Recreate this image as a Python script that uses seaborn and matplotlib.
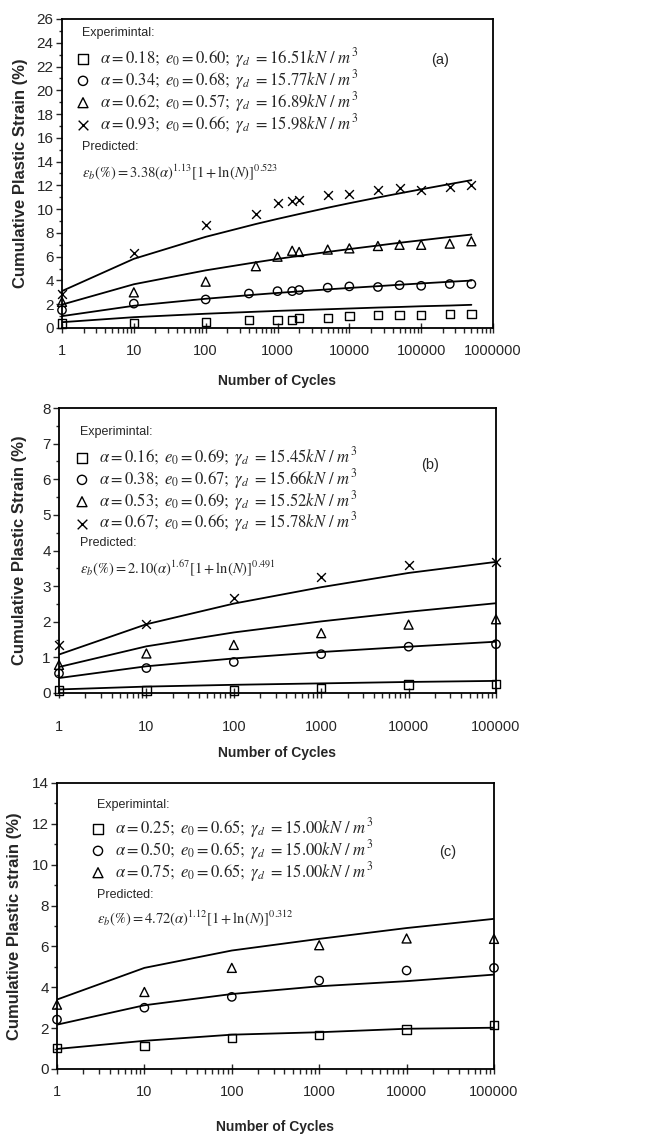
import numpy as np
import pandas as pd
import seaborn as sns
import matplotlib.pyplot as plt
from matplotlib.ticker import MultipleLocator, LogLocator, NullFormatter

sns.set_style('ticks')
plt.rcParams['font.family'] = ['Liberation Sans', 'DejaVu Sans']
plt.rcParams['mathtext.fontset'] = 'stix'

# ---------------- panel (a) ----------------
n_a_sq = [1, 10, 100, 400, 1000, 1600, 2000, 5000, 10000, 25000, 50000, 100000, 250000, 500000]
a_sq = [0.37, 0.42, 0.50, 0.65, 0.70, 0.70, 0.84, 0.84, 1.00, 1.12, 1.12, 1.07, 1.20, 1.20]
a_ci = [1.50, 2.05, 2.40, 2.90, 3.10, 3.10, 3.20, 3.40, 3.50, 3.45, 3.60, 3.55, 3.70, 3.70]
n_a_tr = [1, 10, 100, 500, 1000, 1600, 2000, 5000, 10000, 25000, 50000, 100000, 250000, 500000]
a_tr = [2.20, 3.00, 3.90, 5.20, 6.00, 6.50, 6.40, 6.60, 6.70, 6.90, 7.00, 7.00, 7.10, 7.30]
a_cr = [2.90, 6.30, 8.70, 9.60, 10.50, 10.70, 10.80, 11.20, 11.30, 11.65, 11.75, 11.65, 11.90, 12.00]
n_a_pred = [1, 10, 100, 500, 1000, 2000, 5000, 10000, 25000, 50000, 100000, 250000, 500000]
a_pred_sq = [0.49, 0.91, 1.20, 1.37, 1.44, 1.50, 1.58, 1.64, 1.72, 1.77, 1.83, 1.89, 1.95]
a_pred_ci = [1.00, 1.87, 2.46, 2.81, 2.95, 3.08, 3.25, 3.37, 3.52, 3.64, 3.75, 3.89, 3.99]
a_pred_tr = [1.97, 3.68, 4.85, 5.53, 5.81, 6.07, 6.40, 6.64, 6.94, 7.17, 7.38, 7.66, 7.86]
a_pred_cr = [3.11, 5.82, 7.67, 8.75, 9.18, 9.59, 10.12, 10.50, 10.98, 11.33, 11.67, 12.11, 12.44]
a_labels = [r'$\alpha = 0.18;\ e_0 = 0.60;\ \gamma_d\ = 16.51kN\ /\ m^3$',
            r'$\alpha = 0.34;\ e_0 = 0.68;\ \gamma_d\ = 15.77kN\ /\ m^3$',
            r'$\alpha = 0.62;\ e_0 = 0.57;\ \gamma_d\ = 16.89kN\ /\ m^3$',
            r'$\alpha = 0.93;\ e_0 = 0.66;\ \gamma_d\ = 15.98kN\ /\ m^3$']
a_formula = r'$\varepsilon_b(\%) = 3.38(\alpha)^{1.13}[1 + \ln(N)]^{0.523}$'

# ---------------- panel (b) ----------------
n_b = [1, 10, 100, 1000, 10000, 100000]
b_sq = [0.07, 0.07, 0.07, 0.14, 0.24, 0.26]
b_ci = [0.55, 0.70, 0.87, 1.09, 1.30, 1.37]
b_tr = [0.79, 1.11, 1.35, 1.68, 1.92, 2.07]
b_cr = [1.35, 1.94, 2.67, 3.27, 3.58, 3.68]
b_pred_sq = [0.10, 0.18, 0.23, 0.27, 0.31, 0.34]
b_pred_ci = [0.42, 0.75, 0.97, 1.15, 1.30, 1.44]
b_pred_tr = [0.73, 1.31, 1.70, 2.01, 2.28, 2.52]
b_pred_cr = [1.08, 1.93, 2.51, 2.97, 3.37, 3.68]
b_labels = [r'$\alpha = 0.16;\ e_0 = 0.69;\ \gamma_d\ = 15.45kN\ /\ m^3$',
            r'$\alpha = 0.38;\ e_0 = 0.67;\ \gamma_d\ = 15.66kN\ /\ m^3$',
            r'$\alpha = 0.53;\ e_0 = 0.69;\ \gamma_d\ = 15.52kN\ /\ m^3$',
            r'$\alpha = 0.67;\ e_0 = 0.66;\ \gamma_d\ = 15.78kN\ /\ m^3$']
b_formula = r'$\varepsilon_b(\%) = 2.10(\alpha)^{1.67}[1 + \ln(N)]^{0.491}$'

# ---------------- panel (c) ----------------
n_c = [1, 10, 100, 1000, 10000, 100000]
c_sq = [1.03, 1.14, 1.52, 1.65, 1.93, 2.17]
c_ci = [2.42, 3.00, 3.53, 4.33, 4.82, 4.95]
c_tr = [3.15, 3.77, 4.95, 6.06, 6.39, 6.37]
c_pred_sq = [0.98, 1.38, 1.68, 1.80, 1.97, 2.02]
c_pred_ci = [2.17, 3.12, 3.67, 4.05, 4.30, 4.62]
c_pred_tr = [3.40, 4.95, 5.80, 6.37, 6.90, 7.35]
c_labels = [r'$\alpha = 0.25;\ e_0 = 0.65;\ \gamma_d\ = 15.00kN\ /\ m^3$',
            r'$\alpha = 0.50;\ e_0 = 0.65;\ \gamma_d\ = 15.00kN\ /\ m^3$',
            r'$\alpha = 0.75;\ e_0 = 0.65;\ \gamma_d\ = 15.00kN\ /\ m^3$']
c_formula = r'$\varepsilon_b(\%) = 4.72(\alpha)^{1.12}[1 + \ln(N)]^{0.312}$'

xticks_a = [1, 10, 100, 1000, 10000, 100000, 1000000]
xticks_bc = [1, 10, 100, 1000, 10000, 100000]

W, H = 650, 1138
fig = plt.figure(figsize=(W / 100, H / 100), dpi=100)


def box(l, t, r, b):
    return [l / W, 1 - b / H, (r - l) / W, (b - t) / H]


def panel(rect, series, preds, labels, formula, tag, xticks, ylim, ymaj, ymin, ylabel, txt, lab_pos):
    ax = fig.add_axes(box(*rect))
    for (npx, ps) in preds:
        sns.lineplot(x=npx, y=ps, ax=ax, color='black', lw=1.3, zorder=2)
    for (nx, ys, mk), lab in zip(series, labels):
        df = pd.DataFrame({'N': nx, 'eps': ys})
        if mk == 'x':
            sns.scatterplot(data=df, x='N', y='eps', ax=ax, marker='x', color='black',
                            s=40, linewidth=1.0, clip_on=False, zorder=3, label=lab)
        else:
            sns.scatterplot(data=df, x='N', y='eps', ax=ax, marker=mk, facecolors='none',
                            edgecolor='black', s=36 if mk != '^' else 42, linewidth=1.0,
                            clip_on=False, zorder=3, label=lab)
    ax.set_xscale('log')
    ax.set_xlim(xticks[0], xticks[-1])
    ax.set_xticks(xticks)
    ax.set_xticklabels([str(v) for v in xticks], fontsize=10)
    ax.xaxis.set_minor_locator(LogLocator(base=10, subs=np.arange(2, 10)))
    ax.xaxis.set_minor_formatter(NullFormatter())
    ax.set_ylim(*ylim)
    ax.yaxis.set_major_locator(MultipleLocator(ymaj))
    ax.yaxis.set_minor_locator(MultipleLocator(ymin))
    xpad, ylx, xly = lab_pos
    ax.tick_params(axis='y', which='major', direction='out', length=4, width=1, labelsize=11, pad=2)
    ax.tick_params(axis='y', which='minor', direction='out', length=2.5, width=1)
    ax.tick_params(axis='x', which='major', direction='inout', length=7, width=1, labelsize=10.5, pad=xpad)
    ax.tick_params(axis='x', which='minor', direction='out', length=3.5, width=1)
    for s in ax.spines.values():
        s.set_visible(True)
        s.set_linewidth(1.3)
        s.set_color('black')
    ax.set_xlabel('Number of Cycles', fontsize=10, fontweight='bold')
    ax.set_ylabel(ylabel, fontsize=12, fontweight='bold')
    l, t, r, b = rect
    ax.yaxis.set_label_coords(ylx / W, 1 - (t + b) / 2 / H, transform=fig.transFigure)
    ax.xaxis.set_label_coords((l + r) / 2 / W, 1 - xly / H, transform=fig.transFigure)
    ax.xaxis.label.set_va('center')
    ax.yaxis.label.set_va('center')

    hx, hy, mx, rows_top, py, fy, tx, ty = txt
    fig.text(hx / W, 1 - hy / H, 'Experimintal:', fontsize=9, va='center', ha='left')
    ax.legend(loc='upper left', bbox_to_anchor=(mx / W, 1 - rows_top / H),
              bbox_transform=fig.transFigure, frameon=False, borderpad=0,
              borderaxespad=0, handlelength=0.6, handletextpad=0.7,
              labelspacing=-0.13, fontsize=12, markerscale=1.1)
    fig.text(hx / W, 1 - py / H, 'Predicted:', fontsize=9, va='center', ha='left')
    fig.text(hx / W, 1 - fy / H, formula, fontsize=10.5, va='center', ha='left')
    fig.text(tx / W, 1 - ty / H, tag, fontsize=10.5, va='center', ha='center')
    return ax


panel((62, 19, 493, 328),
      [(n_a_sq, a_sq, 's'), (n_a_sq, a_ci, 'o'), (n_a_tr, a_tr, '^'), (n_a_tr, a_cr, 'x')],
      [(n_a_pred, a_pred_sq), (n_a_pred, a_pred_ci), (n_a_pred, a_pred_tr), (n_a_pred, a_pred_cr)],
      a_labels, a_formula, '(a)', xticks_a, (0, 26), 2, 1,
      'Cumulative Plastic Strain (%)', (82, 33, 78, 46, 147, 172, 440, 60), (8, 21, 381))

panel((59, 408, 496, 693),
      [(n_b, b_sq, 's'), (n_b, b_ci, 'o'), (n_b, b_tr, '^'), (n_b, b_cr, 'x')],
      [(n_b, b_pred_sq), (n_b, b_pred_ci), (n_b, b_pred_tr), (n_b, b_pred_cr)],
      b_labels, b_formula, '(b)', xticks_bc, (0, 8), 1, 0.5,
      'Cumulative Plastic Strain (%)', (80, 432, 77, 445, 543, 568, 430, 465), (16, 20, 753))

panel((57, 783, 494, 1069),
      [(n_c, c_sq, 's'), (n_c, c_ci, 'o'), (n_c, c_tr, '^')],
      [(n_c, c_pred_sq), (n_c, c_pred_ci), (n_c, c_pred_tr)],
      c_labels, c_formula, '(c)', xticks_bc, (0, 14), 2, 1,
      'Cumulative Plastic strain (%)', (97, 805, 93, 816, 895, 918, 448, 852), (8, 15, 1127))

fig.savefig('out.png', dpi=100)
